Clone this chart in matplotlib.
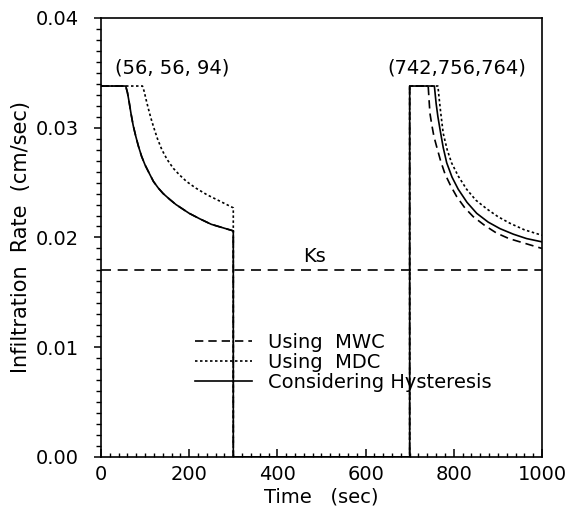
import numpy as np
import matplotlib.pyplot as plt
from matplotlib.ticker import MultipleLocator

# values (time in sec, rate in cm/sec)
ks = 0.0170

# first event: 0-300 s (MWC ponds at the same time as hysteresis)
t1_hys = [0, 56, 60, 64, 68, 73, 79, 85, 92, 100, 110, 119, 130, 141, 155,
          170, 185, 200, 224, 250, 275, 300]
f1_hys = [0.0338, 0.0338, 0.0332, 0.0323, 0.0313, 0.0302, 0.0292, 0.0283,
          0.0274, 0.0266, 0.0258, 0.0251, 0.0245, 0.0240, 0.0235, 0.0230,
          0.0226, 0.0222, 0.0217, 0.0212, 0.0209, 0.0206]
t1_mdc = [0, 94, 98, 102, 107, 113, 119, 128, 138, 150, 164, 178, 194, 215,
          240, 270, 300]
f1_mdc = [0.0338, 0.0338, 0.0333, 0.0326, 0.0318, 0.0309, 0.0301, 0.0290,
          0.0280, 0.0271, 0.0263, 0.0257, 0.0251, 0.0245, 0.0239, 0.0233,
          0.0227]

# second event: 700-1000 s
t2_mwc = [700, 742, 744, 746, 750, 755, 761, 770, 780, 793, 807, 825, 844,
          870, 897, 925, 950, 975, 1000]
f2_mwc = [0.0338, 0.0338, 0.0325, 0.0313, 0.0303, 0.0292, 0.0283, 0.0270,
          0.0258, 0.0247, 0.0237, 0.0227, 0.0219, 0.0211, 0.0204, 0.0199,
          0.0196, 0.0193, 0.0190]
t2_hys = [700, 756, 758, 760, 764, 769, 776, 784, 796, 810, 830, 852, 878,
          905, 935, 965, 1000]
f2_hys = [0.0338, 0.0338, 0.0330, 0.0322, 0.0310, 0.0298, 0.0282, 0.0268,
          0.0255, 0.0244, 0.0232, 0.0222, 0.0214, 0.0208, 0.0203, 0.0199,
          0.0196]
t2_mdc = [700, 764, 766, 770, 776, 785, 795, 810, 829, 850, 875, 900, 927,
          960, 1000]
f2_mdc = [0.0338, 0.0338, 0.0330, 0.0315, 0.0295, 0.0280, 0.0268, 0.0256,
          0.0244, 0.0234, 0.0226, 0.0219, 0.0213, 0.0207, 0.0202]

label1 = '(56, 56, 94)'
label2 = '(742,756,764)'


def full_series(t1, f1, t2, f2):
    # drop to zero after first event, zero until second event starts
    t = list(t1) + [t1[-1], t2[0]] + list(t2)
    f = list(f1) + [0.0, 0.0] + list(f2)
    return t, f


fs = 14
fig = plt.figure(figsize=(5.69, 5.14), dpi=100)
ax = fig.add_axes([0.1775, 0.111, 0.775, 0.854])

lw = 1.2
t, f = full_series(t1_hys, f1_hys, t2_mwc, f2_mwc)
ax.plot(t, f, color='black', lw=lw, dashes=(5, 3), label='Using  MWC')
t, f = full_series(t1_mdc, f1_mdc, t2_mdc, f2_mdc)
ax.plot(t, f, color='black', lw=lw, dashes=(1.5, 1.5), label='Using  MDC')
t, f = full_series(t1_hys, f1_hys, t2_hys, f2_hys)
ax.plot(t, f, color='black', lw=lw, label='Considering Hysteresis')

ax.plot([0, 1000], [ks, ks], color='black', lw=lw, dashes=(6, 4))
ax.text(485, 0.0174, 'Ks', fontsize=fs, ha='center', va='bottom')

ax.text(161, 0.0346, label1, fontsize=fs, ha='center', va='bottom')
ax.text(807, 0.0346, label2, fontsize=fs, ha='center', va='bottom')

ax.set_xlim(0, 1000)
ax.set_ylim(0, 0.04)
ax.xaxis.set_major_locator(MultipleLocator(200))
ax.xaxis.set_minor_locator(MultipleLocator(20))
ax.yaxis.set_major_locator(MultipleLocator(0.01))
ax.yaxis.set_minor_locator(MultipleLocator(0.001))
ax.yaxis.set_major_formatter(plt.FormatStrFormatter('%.2f'))
ax.tick_params(axis='x', which='major', direction='in', length=6, width=1.1,
               labelsize=fs, pad=6)
ax.tick_params(axis='x', which='minor', direction='in', length=3, width=1.0)
ax.tick_params(axis='y', which='major', direction='out', length=4.7, width=1.1,
               labelsize=fs, pad=11)
ax.tick_params(axis='y', which='minor', direction='out', length=3.6, width=1.0)
for s in ax.spines.values():
    s.set_linewidth(1.2)

ax.set_xlabel('Time   (sec)', fontsize=fs, labelpad=2)
ax.set_ylabel('Infiltration  Rate  (cm/sec)', fontsize=15, labelpad=4)

ax.legend(loc='upper left', bbox_to_anchor=(0.213, 0.283), frameon=False,
          fontsize=fs, handlelength=2.95, handletextpad=0.8, labelspacing=0.06,
          borderpad=0, borderaxespad=0)

fig.savefig('out.png', dpi=100)
